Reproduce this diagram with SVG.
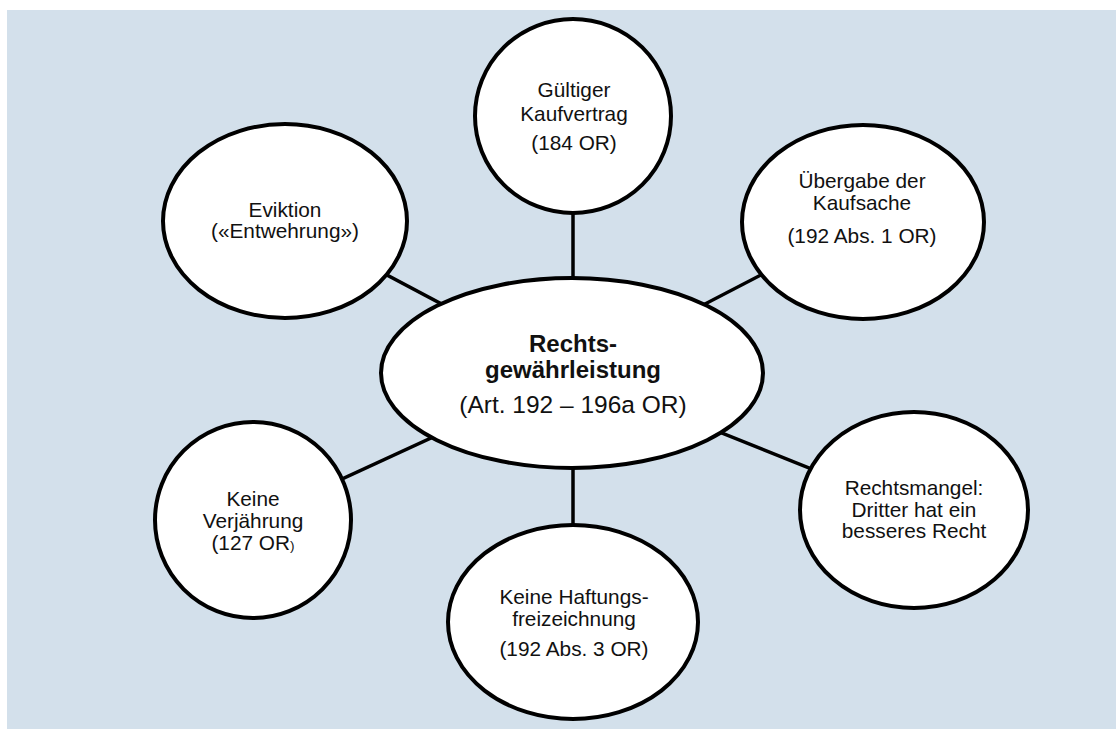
<svg xmlns="http://www.w3.org/2000/svg" width="1116" height="729" viewBox="0 0 1116 729">
  <style>
    .node { fill: #ffffff; stroke: #000000; stroke-width: 4; }
    .conn { stroke: #000000; stroke-width: 3.5; fill: none; }
    .lbl { font-family: "Liberation Sans", Arial, sans-serif; font-size: 20.8px; fill: #111111; text-anchor: middle; }
    .hub { font-family: "Liberation Sans", Arial, sans-serif; font-size: 24.5px; fill: #111111; text-anchor: middle; }
    .hub-b { font-weight: bold; font-size: 24px; }
  </style>

  <!-- backdrop -->
  <rect x="7" y="10" width="1109" height="719" fill="#d3e0eb"/>

  <!-- spokes from the hub to each condition -->
  <g id="connectors">
    <line class="conn" x1="573" y1="373" x2="573" y2="116"/>
    <line class="conn" x1="572" y1="373" x2="863" y2="222"/>
    <line class="conn" x1="572" y1="373" x2="914" y2="510"/>
    <line class="conn" x1="573" y1="373" x2="573" y2="622"/>
    <line class="conn" x1="572" y1="373" x2="253" y2="520"/>
    <line class="conn" x1="572" y1="373" x2="285" y2="221"/>
  </g>

  <g id="hub">
    <ellipse class="node" cx="572" cy="373" rx="191" ry="95"/>
    <text class="hub hub-b" x="573" y="352">Rechts-</text>
    <text class="hub hub-b" x="573" y="378">gewährleistung</text>
    <text class="hub" x="573" y="413">(Art. 192 – 196a OR)</text>
  </g>

  <g id="kaufvertrag">
    <ellipse class="node" cx="573" cy="116" rx="98" ry="97"/>
    <text class="lbl" x="574" y="97">Gültiger</text>
    <text class="lbl" x="574" y="121">Kaufvertrag</text>
    <text class="lbl" x="574" y="150">(184 OR)</text>
  </g>

  <g id="uebergabe">
    <ellipse class="node" cx="863" cy="222" rx="121" ry="97"/>
    <text class="lbl" x="862" y="188">Übergabe der</text>
    <text class="lbl" x="862" y="210">Kaufsache</text>
    <text class="lbl" x="862" y="243">(192 Abs. 1 OR)</text>
  </g>

  <g id="rechtsmangel">
    <ellipse class="node" cx="914" cy="510" rx="114" ry="98"/>
    <text class="lbl" x="914" y="495">Rechtsmangel:</text>
    <text class="lbl" x="914" y="517">Dritter hat ein</text>
    <text class="lbl" x="914" y="538">besseres Recht</text>
  </g>

  <g id="freizeichnung">
    <ellipse class="node" cx="573" cy="622" rx="125" ry="97"/>
    <text class="lbl" x="574" y="604">Keine Haftungs-</text>
    <text class="lbl" x="574" y="626">freizeichnung</text>
    <text class="lbl" x="574" y="656">(192 Abs. 3 OR)</text>
  </g>

  <g id="verjaehrung">
    <ellipse class="node" cx="253" cy="520" rx="98" ry="98"/>
    <text class="lbl" x="253" y="506">Keine</text>
    <text class="lbl" x="253" y="528">Verjährung</text>
    <text class="lbl" x="253" y="550">(127 OR<tspan font-size="13.5px">)</tspan></text>
  </g>

  <g id="eviktion">
    <ellipse class="node" cx="285" cy="221" rx="122" ry="97"/>
    <text class="lbl" x="285" y="217">Eviktion</text>
    <text class="lbl" x="285" y="238">(«Entwehrung»)</text>
  </g>
</svg>
